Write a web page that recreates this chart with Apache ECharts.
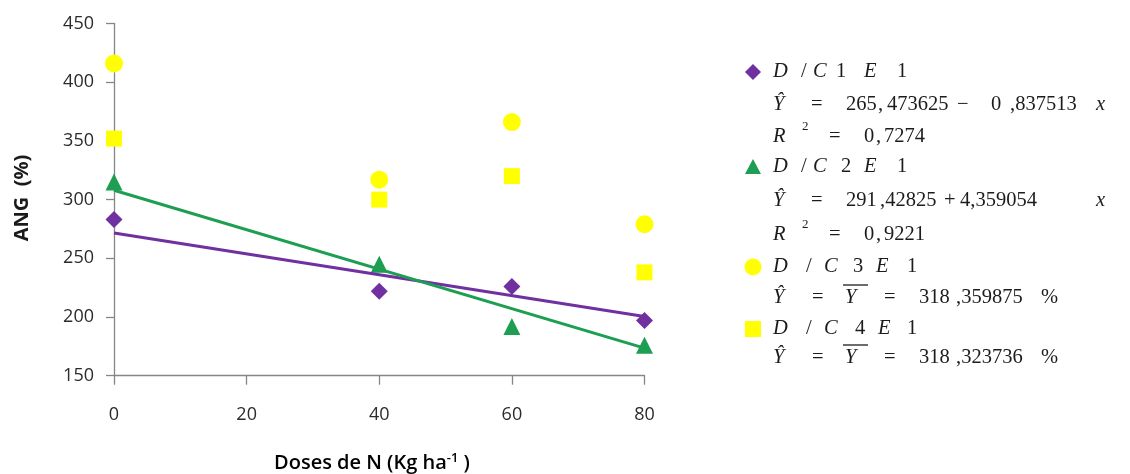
<!DOCTYPE html>
<html>
<head>
<meta charset="utf-8">
<script src="https://cdn.jsdelivr.net/npm/echarts@6/dist/echarts.min.js"></script>
<style>
  html, body { margin: 0; padding: 0; background: #ffffff; }
  #chart { width: 1130px; height: 474px; }
</style>
</head>
<body>
<div id="chart"></div>
<script>
// Nitrogen doses (kg/ha) and ANG (%) for each treatment
const doses = [0, 40, 60, 80];
const angD1 = [283, 222, 226, 197];   // D / C1 E1
const angD2 = [315, 245, 192, 176];   // D / C2 E1
const angD3 = [416, 317, 366, 279];   // D / C3 E1
const angD4 = [352, 300, 320, 238];   // D / C4 E1

// Fitted trend lines, values at the ends of the dose range
const trendX = [0, 80];
const trendD1 = [271.5, 200.5];
const trendD2 = [308, 173.5];

const yTicks = [150, 200, 250, 300, 350, 400, 450];
const xTicks = [0, 20, 40, 60, 80];

const PURPLE = '#7030a0';
const GREEN = '#1e9e52';
const YELLOW = '#ffff00';
const AXIS = '#868686';

const pairs = (xs, ys) => xs.map((x, i) => [x, ys[i]]);

const chart = echarts.init(document.getElementById('chart'), null, { renderer: 'canvas' });

// Legend: markers plus equation text set in italic serif
const SERIF = '"Liberation Serif", "DejaVu Serif", serif';
const INK = '#1c1c1c';
const FS = 20.5;

function tok(text, x, y, italic, size) {
  return {
    type: 'text', x: x, y: y, z: 10,
    style: {
      text: text, fill: INK,
      font: (italic ? 'italic ' : '') + (size || FS) + 'px ' + SERIF,
      textVerticalAlign: 'middle', textAlign: 'left'
    }
  };
}
function line(y, items) {
  return items.map(it => tok(it[0], it[1], it[3] !== undefined ? it[3] : y, it[2], it[4]));
}
function overline(x1, x2, y) {
  return { type: 'line', z: 10, shape: { x1: x1, y1: y, x2: x2, y2: y }, style: { stroke: INK, lineWidth: 1.3 } };
}

const legendText = [].concat(
  line(72,  [['D', 773, true], ['/', 801, false], ['C', 813, true], ['1', 836, false], ['E', 864, true], ['1', 897, false]]),
  line(105, [['\u0176', 773, true], ['=', 811, false], ['265', 846, false], [',', 878, false], ['473625', 887, false], ['\u2212', 957, false], ['0', 991, false], [',837513', 1010, false], ['x', 1096, true]]),
  line(137, [['R', 773, true], ['2', 802, false, 127, 13], ['=', 829, false], ['0', 864, false], [',', 876, false], ['7274', 884, false]]),
  line(167, [['D', 773, true], ['/', 801, false], ['C', 813, true], ['2', 841, false], ['E', 864, true], ['1', 897, false]]),
  line(201, [['\u0176', 773, true], ['=', 811, false], ['291', 846, false], [',42825', 880, false], ['+', 944, false], ['4,359054', 960, false], ['x', 1096, true]]),
  line(235, [['R', 773, true], ['2', 802, false, 225, 13], ['=', 829, false], ['0', 864, false], [',', 876, false], ['9221', 884, false]]),
  line(267, [['D', 773, true], ['/', 806, false], ['C', 824, true], ['3', 853, false], ['E', 876, true], ['1', 907, false]]),
  line(298, [['\u0176', 773, true], ['=', 812, false], ['Y', 845, true], ['=', 884, false], ['318', 919, false], [',359875', 956, false], ['%', 1041, false]]),
  line(329, [['D', 773, true], ['/', 806, false], ['C', 824, true], ['4', 855, false], ['E', 878, true], ['1', 907, false]]),
  line(358, [['\u0176', 773, true], ['=', 812, false], ['Y', 845, true], ['=', 884, false], ['318', 919, false], [',323736', 956, false], ['%', 1041, false]]),
  [overline(843, 868, 285), overline(843, 868, 345)]
);

const legendMarks = [
  { type: 'polygon', z: 10, shape: { points: [[753, 64], [761, 72], [753, 80], [745, 72]] }, style: { fill: PURPLE } },
  { type: 'polygon', z: 10, shape: { points: [[753, 159], [761, 174], [745, 174]] }, style: { fill: GREEN } },
  { type: 'circle', z: 10, shape: { cx: 753, cy: 267, r: 8.5 }, style: { fill: YELLOW } },
  { type: 'rect', z: 10, shape: { x: 745, y: 321, width: 16, height: 16 }, style: { fill: YELLOW } }
];

const titles = [
  {
    type: 'text', z: 10, x: 22, y: 198, rotation: Math.PI / 2,
    style: {
      text: 'ANG  (%)', fill: '#1a1a1a',
      font: 'bold 20px "Open Sans", sans-serif',
      textAlign: 'center', textVerticalAlign: 'middle'
    }
  },
  {
    type: 'text', z: 10, x: 372, y: 463,
    style: {
      text: '{a|Doses de N (Kg ha}{s|-1}{a| )}',
      rich: {
        a: { fontFamily: '"Open Sans", sans-serif', fontSize: 20, fontWeight: 600, color: '#1a1a1a' },
        s: { fontFamily: '"Open Sans", sans-serif', fontSize: 13, fontWeight: 600, color: '#1a1a1a', verticalAlign: 'top', padding: [0, 0, 9, 0] }
      },
      textAlign: 'center', textVerticalAlign: 'middle'
    }
  }
];

const scatter = (name, ys, symbol, size, color) => ({
  name: name, type: 'scatter', z: 2,
  data: pairs(doses, ys),
  symbol: symbol, symbolSize: size,
  itemStyle: { color: color, opacity: 1 },
  silent: true
});
const trend = (name, ys, color) => ({
  name: name, type: 'line', z: 3,
  data: pairs(trendX, ys),
  showSymbol: false, symbol: 'none',
  lineStyle: { color: color, width: 3 },
  silent: true, animation: false
});

chart.setOption({
  animation: false,
  backgroundColor: '#ffffff',
  grid: { left: 114, top: 23.5, width: 530.5, height: 352.2 },
  xAxis: {
    type: 'value', min: xTicks[0], max: xTicks[xTicks.length - 1], interval: 20,
    axisLine: { show: true, lineStyle: { color: AXIS, width: 1.3 } },
    axisTick: { show: true, length: 9, lineStyle: { color: AXIS, width: 1.3 } },
    splitLine: { show: false },
    axisLabel: { margin: 30, color: '#2b2b2b', fontSize: 18, fontFamily: '"Open Sans", sans-serif' }
  },
  yAxis: {
    type: 'value', min: yTicks[0], max: yTicks[yTicks.length - 1], interval: 50,
    axisLine: { show: true, lineStyle: { color: AXIS, width: 1.3 } },
    axisTick: { show: true, length: 8, lineStyle: { color: AXIS, width: 1.3 } },
    splitLine: { show: false },
    axisLabel: { margin: 20, color: '#2b2b2b', fontSize: 18, fontFamily: '"Open Sans", sans-serif' }
  },
  series: [
    scatter('D / C1 E1', angD1, 'diamond', 17, PURPLE),
    scatter('D / C2 E1', angD2, 'triangle', 17, GREEN),
    scatter('D / C3 E1', angD3, 'circle', 18, YELLOW),
    scatter('D / C4 E1', angD4, 'rect', 16, YELLOW),
    trend('Tendência C1', trendD1, PURPLE),
    trend('Tendência C2', trendD2, GREEN)
  ],
  graphic: titles.concat(legendMarks, legendText)
});
</script>
</body>
</html>
